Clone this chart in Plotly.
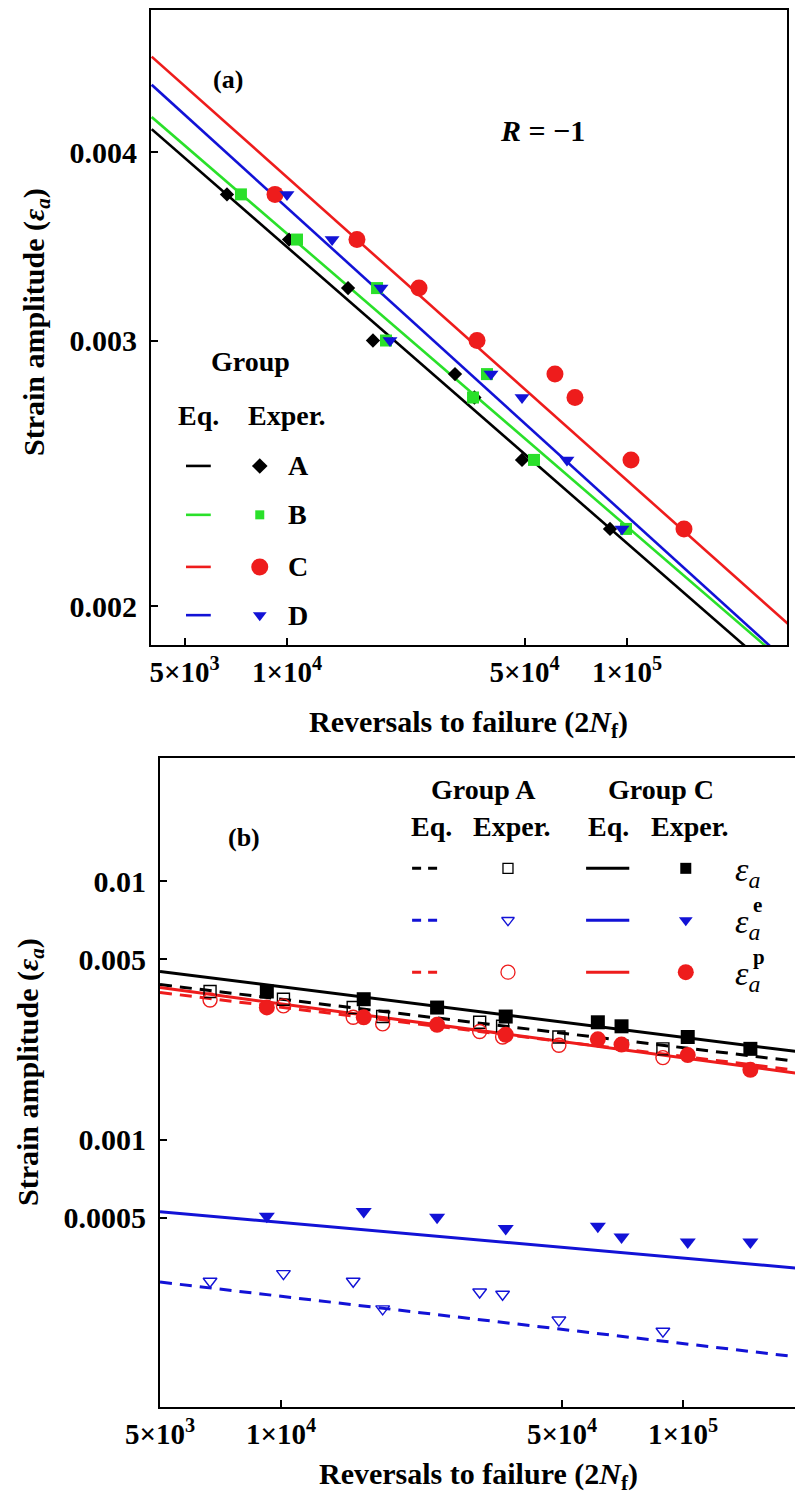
import plotly.graph_objects as go

W, H = 795, 1506

# ---------------- panel (a): strain-life, R = -1 ----------------
strain_levels = [0.00375, 0.0035, 0.00325, 0.003, 0.00285, 0.00275, 0.0025, 0.00225]
reversals_A = [6660, 10140, 15120, 17900, 31200, 35580, 49120, 89130]
reversals_B = [7320, 10700, 18400, 19550, 38750, 35250, 53270, 99330]
reversals_C = [9220, 16060, 24450, 36220, 61400, 70320, 102750, 147100]
reversals_D = [10000, 13570, 18900, 20090, 39810, 49120, 66600, 96670]

# fitted strain-life equations, evaluated at the ends of the plotted span
eq_a_reversals = [4000, 300000]
eq_a_A = [0.004143, 0.001774]
eq_a_B = [0.004220, 0.001824]
eq_a_C = [0.004628, 0.001943]
eq_a_D = [0.004433, 0.001832]

# ---------------- panel (b): elastic / plastic split ----------------
total_A = strain_levels
total_C = strain_levels
elastic_A = [0.000284, 0.000304, 0.000284, 0.000222, 0.000258, 0.000253, 0.000201, 0.000182]
elastic_C = [0.000507, 0.000529, 0.000502, 0.000454, 0.000464, 0.000421, 0.000403, 0.000403]
plastic_A = [0.003476, 0.003299, 0.002979, 0.002810, 0.002627, 0.002501, 0.002323, 0.002081]
plastic_C = [0.003253, 0.002979, 0.002786, 0.002551, 0.002449, 0.002337, 0.002129, 0.001867]

eq_b_reversals = [5000, 200000]
eq_b_total_A = [0.003989, 0.001996]
eq_b_total_C = [0.004481, 0.002178]
eq_b_elastic_A = [0.000282, 0.0001437]
eq_b_elastic_C = [0.000528, 0.0003173]
eq_b_plastic_A = [0.003718, 0.001844]
eq_b_plastic_C = [0.003886, 0.001795]

x_tickvals = [5000, 10000, 50000, 100000]
x_ticktext = ["5×10<sup>3</sup>", "1×10<sup>4</sup>", "5×10<sup>4</sup>", "1×10<sup>5</sup>"]
ya_tickvals = [0.002, 0.003, 0.004]
ya_ticktext = ["0.002", "0.003", "0.004"]
yb_tickvals = [0.0005, 0.001, 0.005, 0.01]
yb_ticktext = ["0.0005", "0.001", "0.005", "0.01"]

BLACK = "#000000"
GREEN = "#2ae02a"
RED = "#ee1c1c"
BLUE = "#1212d6"
FONT = "Liberation Serif"

fig = go.Figure()

# ---- panel (a) equation lines ----
for ys, col in [(eq_a_A, BLACK), (eq_a_B, GREEN), (eq_a_C, RED), (eq_a_D, BLUE)]:
    fig.add_trace(go.Scatter(x=eq_a_reversals, y=ys, mode="lines",
                             line=dict(color=col, width=2.6),
                             xaxis="x", yaxis="y", showlegend=False))

# ---- panel (a) experimental points ----
for xs, sym, col, size in [(reversals_A, "diamond", BLACK, 11),
                           (reversals_B, "square", GREEN, 12),
                           (reversals_C, "circle", RED, 17),
                           (reversals_D, "triangle-down", BLUE, 13)]:
    fig.add_trace(go.Scatter(x=xs, y=strain_levels, mode="markers",
                             marker=dict(symbol=sym, color=col, size=size, line=dict(width=0)),
                             xaxis="x", yaxis="y", showlegend=False))

# ---- panel (b) equation lines ----
for ys, col, dash in [(eq_b_total_A, BLACK, "12px,8px"), (eq_b_elastic_A, BLUE, "12px,8px"),
                      (eq_b_plastic_A, RED, "12px,8px"),
                      (eq_b_total_C, BLACK, "solid"), (eq_b_elastic_C, BLUE, "solid"),
                      (eq_b_plastic_C, RED, "solid")]:
    fig.add_trace(go.Scatter(x=eq_b_reversals, y=ys, mode="lines",
                             line=dict(color=col, width=3, dash=dash),
                             xaxis="x2", yaxis="y2", showlegend=False))

# ---- panel (b) experimental points ----
for xs, ys, sym, col, size in [(reversals_A, total_A, "square-open", BLACK, 12),
                               (reversals_A, elastic_A, "triangle-down-open", BLUE, 12),
                               (reversals_A, plastic_A, "circle-open", RED, 14),
                               (reversals_C, total_C, "square", BLACK, 14),
                               (reversals_C, elastic_C, "triangle-down", BLUE, 14),
                               (reversals_C, plastic_C, "circle", RED, 16)]:
    fig.add_trace(go.Scatter(x=xs, y=ys, mode="markers",
                             marker=dict(symbol=sym, color=col, size=size,
                                         line=dict(width=1.4 if "open" in sym else 0, color=col)),
                             xaxis="x2", yaxis="y2", showlegend=False))

# ---- legend keys, drawn on unit overlay axes of each panel ----
def key_line(ax, x0, x1, y, col, dash="solid", width=2.6):
    fig.add_trace(go.Scatter(x=[x0, x1], y=[y, y], mode="lines",
                             line=dict(color=col, width=width, dash=dash),
                             xaxis="x" + ax, yaxis="y" + ax, showlegend=False,
                             cliponaxis=False))

def key_marker(ax, x, y, sym, col, size):
    fig.add_trace(go.Scatter(x=[x], y=[y], mode="markers",
                             marker=dict(symbol=sym, color=col, size=size,
                                         line=dict(width=1.3 if "open" in sym else 0, color=col)),
                             xaxis="x" + ax, yaxis="y" + ax, showlegend=False,
                             cliponaxis=False))

annotations = []

def txt(x, y, ref, s, size=28, xanchor="center", yanchor="middle", **kw):
    d = dict(x=x, y=y, xref=ref if ref == "paper" else "x" + ref,
             yref=ref if ref == "paper" else "y" + ref, text=s, showarrow=False,
             xanchor=xanchor, yanchor=yanchor,
             font=dict(family=FONT, size=size, color=BLACK))
    d.update(kw)
    annotations.append(d)

legend_a_rows = [0.282, 0.205, 0.123, 0.047]
legend_a = [("A", BLACK, "diamond", 12), ("B", GREEN, "square", 9),
            ("C", RED, "circle", 17), ("D", BLUE, "triangle-down", 12)]
for yrow, (name, col, sym, size) in zip(legend_a_rows, legend_a):
    key_line("3", 0.055, 0.094, yrow, col)
    key_marker("3", 0.171, yrow, sym, col, size)
    txt(0.212, yrow, "3", "<b>%s</b>" % name, 28, xanchor="left")

legend_b_rows = [0.830, 0.750, 0.670]
legend_b = [(BLACK, "square-open", 10, "square", 11, "a", ""),
            (BLUE, "triangle-down-open", 11, "triangle-down", 12, "a", "e"),
            (RED, "circle-open", 14, "circle", 16, "a", "p")]
for yrow, (col, osym, osz, fsym, fsz, sub, sup) in zip(legend_b_rows, legend_b):
    key_line("4", 0.397, 0.444, yrow, col, dash="9px,7px", width=3)
    key_marker("4", 0.548, yrow, osym, col, osz)
    key_line("4", 0.671, 0.739, yrow, col, width=3)
    key_marker("4", 0.828, yrow, fsym, col, fsz)
    txt(0.902, yrow - 0.006, "4", "<i>ε<sub>%s</sub></i>" % sub, 34, xanchor="left")
    if sup:
        txt(0.931, yrow + 0.024, "4", "<b>%s</b>" % sup, 21, xanchor="left")

# ---- text labels ----
txt(0.121, 0.890, "3", "<b>(a)</b>", 26)
txt(0.616, 0.811, "3", "<b><i>R</i> = −1</b>", 30)
txt(0.156, 0.446, "3", "<b>Group</b>", 28)
txt(0.075, 0.362, "3", "<b>Eq.</b>", 28)
txt(0.214, 0.362, "3", "<b>Exper.</b>", 28)

txt(0.132, 0.877, "4", "<b>(b)</b>", 26)
txt(0.510, 0.951, "4", "<b>Group A</b>", 28)
txt(0.789, 0.951, "4", "<b>Group C</b>", 28)
txt(0.428, 0.894, "4", "<b>Eq.</b>", 28)
txt(0.554, 0.894, "4", "<b>Exper.</b>", 28)
txt(0.706, 0.894, "4", "<b>Eq.</b>", 28)
txt(0.835, 0.894, "4", "<b>Exper.</b>", 28)

# axis titles
ytitle = "<b>Strain amplitude (<i>ε<sub>a</sub></i>)</b>"
xtitle = "<b>Reversals to failure (2<i>N</i><sub>f</sub>)</b>"
txt(36 / W, 1 - 322 / H, "paper", ytitle, 30, textangle=-90)
txt(468 / W, 1 - 724 / H, "paper", xtitle, 30)
txt(30 / W, 1 - 1072 / H, "paper", ytitle, 30, textangle=-90)
txt(478 / W, 1 - 1476 / H, "paper", xtitle, 30)

xtickfont = dict(family=FONT, size=29, color=BLACK, weight="bold")
ytickfont = dict(family=FONT, size=30, color=BLACK, weight="bold")
common = dict(showgrid=False, zeroline=False, showline=True, linecolor=BLACK, linewidth=2,
              ticks="inside", ticklen=7, tickwidth=1.5, tickcolor=BLACK, automargin=False)

dom_a_x = [151 / W, 787 / W]
dom_a_y = [1 - 645 / H, 1 - 10 / H]
dom_b_x = [160 / W, 1.0]
dom_b_y = [1 - 1407 / H, 1 - 758 / H]

fig.update_layout(
    width=W, height=H,
    margin=dict(l=0, r=0, t=0, b=0, pad=0, autoexpand=False),
    paper_bgcolor="white", plot_bgcolor="rgba(0,0,0,0)",
    showlegend=False,
    xaxis=dict(type="log", range=[3.6, 5.4706], domain=dom_a_x, anchor="y", mirror=True,
               tickvals=x_tickvals, ticktext=x_ticktext, ticklabelstandoff=0,
               tickfont=xtickfont, **common),
    yaxis=dict(type="log", range=[-2.7248, -2.3037], domain=dom_a_y, anchor="x", mirror=True,
               tickvals=ya_tickvals, ticktext=ya_ticktext, ticklabelstandoff=6,
               tickfont=ytickfont, **common),
    xaxis2=dict(type="log", range=[3.69897, 5.2786], domain=dom_b_x, anchor="y2", mirror=True,
                tickvals=x_tickvals, ticktext=x_ticktext, ticklabelstandoff=0,
                tickfont=xtickfont, **common),
    yaxis2=dict(type="log", range=[-4.033, -1.523], domain=dom_b_y, anchor="x2", mirror=False,
                tickvals=yb_tickvals, ticktext=yb_ticktext, ticklabelstandoff=6,
                tickfont=ytickfont, **common),
    xaxis3=dict(range=[0, 1], overlaying="x", visible=False, anchor="y3", automargin=False),
    yaxis3=dict(range=[0, 1], overlaying="y", visible=False, anchor="x3", automargin=False),
    xaxis4=dict(range=[0, 1], overlaying="x2", visible=False, anchor="y4", automargin=False),
    yaxis4=dict(range=[0, 1], overlaying="y2", visible=False, anchor="x4", automargin=False),
    annotations=annotations,
)

fig.write_html("out.html")
